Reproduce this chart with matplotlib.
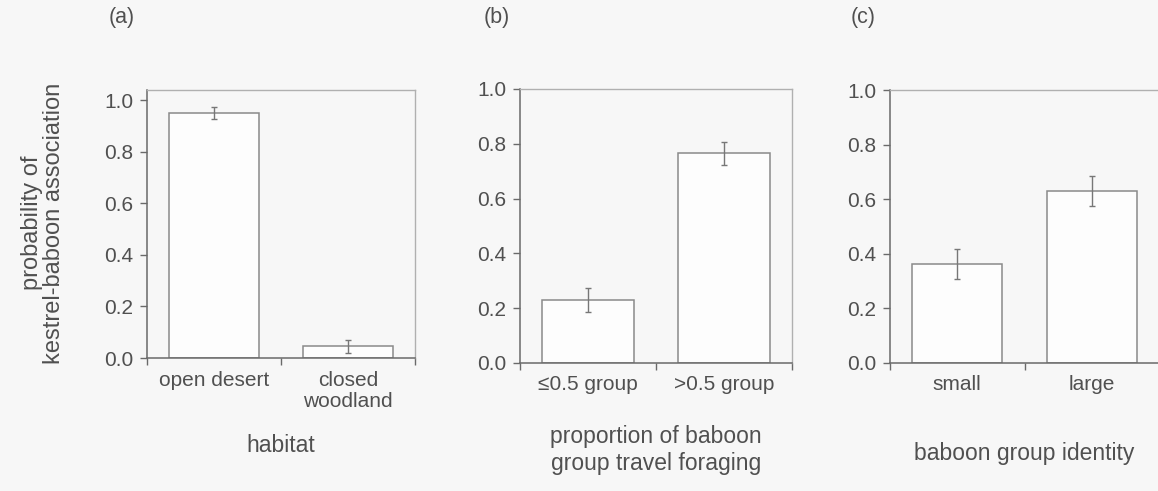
import matplotlib
matplotlib.use("Agg")
import matplotlib.pyplot as plt

plt.rcParams['font.family'] = ['Liberation Sans', 'DejaVu Sans']

# predicted probabilities and their standard errors
habitat_cats = ['open desert', 'closed\nwoodland']
habitat_prob = [0.95, 0.045]
habitat_err = [0.025, 0.025]

foraging_cats = ['\u22640.5 group', '>0.5 group']
foraging_prob = [0.23, 0.765]
foraging_err = [0.045, 0.043]

group_cats = ['small', 'large']
group_prob = [0.363, 0.63]
group_err = [0.055, 0.055]

panel_letters = ['(a)', '(b)', '(c)']
x_titles = ['habitat', 'proportion of baboon\ngroup travel foraging', 'baboon group identity']
y_title = 'probability of\nkestrel-baboon association'

TXT = '#505050'
SPINE = '#6a6a6a'
EDGE = '#8a8a8a'
BG = '#f7f7f7'

W, H = 1158, 491
fig = plt.figure(figsize=(W / 100, H / 100), dpi=100, facecolor=BG)

# axes boxes in pixels: left, right, top, bottom, ymax, label y
boxes = [
    (147, 415, 90, 358, 1.039, -0.325),
    (520, 792, 89, 363, 1.0, -0.318),
    (890, 1159, 90, 363, 1.0, -0.33),
]
panels = [
    (habitat_cats, habitat_prob, habitat_err),
    (foraging_cats, foraging_prob, foraging_err),
    (group_cats, group_prob, group_err),
]
letter_x = [122, 497, 863]

for i, ((cats, prob, err), box) in enumerate(zip(panels, boxes)):
    l, r, t, b, ymax, ly = box
    ax = fig.add_axes([l / W, 1 - b / H, (r - l) / W, (b - t) / H])
    ax.set_facecolor(BG)
    xs = [0.5 + k for k in range(len(cats))]
    ax.bar(xs, prob, width=0.67, color='#fdfdfd', edgecolor=EDGE, linewidth=1.1)
    ax.errorbar(xs, prob, yerr=err, fmt='none', ecolor='#777777',
                elinewidth=1.0, capsize=2, capthick=1.0)
    ax.set_xlim(0, len(cats))
    ax.set_ylim(0, ymax)
    ax.set_yticks([0, 0.2, 0.4, 0.6, 0.8, 1.0])
    ax.set_yticklabels(['0.0', '0.2', '0.4', '0.6', '0.8', '1.0'])
    ax.set_xticks(xs)
    ax.set_xticklabels(cats, linespacing=1.15)
    ax.set_xticks([0, 1, 2], minor=True)
    ax.tick_params(axis='x', which='major', length=0, pad=9,
                   labelsize=15, labelcolor=TXT)
    ax.tick_params(axis='x', which='minor', length=5, width=1.0, color=SPINE,
                   direction='out')
    ax.tick_params(axis='y', length=5, width=1.0, color=SPINE, pad=5,
                   labelsize=15, labelcolor=TXT, direction='out')
    for side in ['left', 'bottom']:
        ax.spines[side].set_color(SPINE)
        ax.spines[side].set_linewidth(1.1)
    for side in ['top', 'right']:
        ax.spines[side].set_color('#b0b0b0')
        ax.spines[side].set_linewidth(1.0)

    ax.set_xlabel(x_titles[i], fontsize=16.5, color=TXT, linespacing=1.25)
    ax.xaxis.set_label_coords(0.5, ly)
    ax.xaxis.label.set_verticalalignment('center')

    fig.text(letter_x[i] / W, 1 - 17 / H, panel_letters[i], fontsize=15.5,
             color=TXT, ha='center', va='center')

fig.text(43 / W, 1 - 223 / H, y_title, rotation=90, fontsize=17, color=TXT,
         ha='center', va='center', multialignment='center', linespacing=1.05)

fig.savefig('out.png', dpi=100, facecolor=BG)
